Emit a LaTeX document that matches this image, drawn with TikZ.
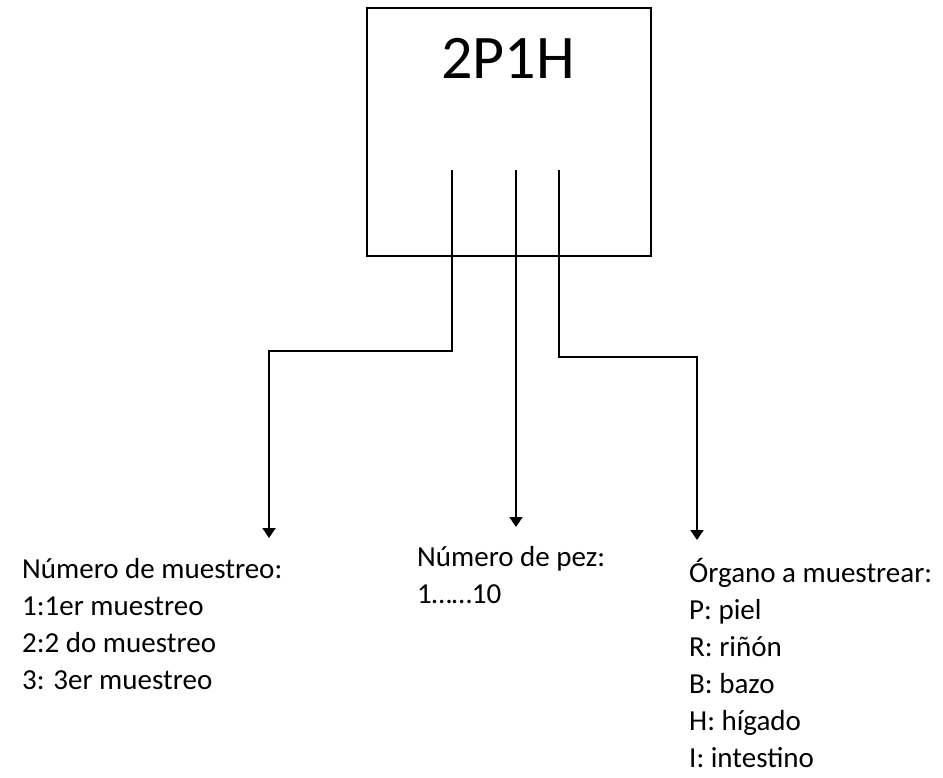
\documentclass[tikz,border=0pt]{standalone}
\usepackage{fontspec}
\setmainfont{Carlito}
\usetikzlibrary{arrows.meta}
\begin{document}
\begin{tikzpicture}[x=1pt,y=-1pt,
  conn/.style={line width=2pt,-{Triangle[width=13pt,length=10pt]}},
  boxline/.style={line width=1.6pt},
  lbl/.style={anchor=north west,align=left,inner sep=0pt,font=\fontsize{29}{37}\selectfont},
  bigtxt/.style={anchor=base,inner sep=0pt,font=\fontsize{62}{70}\selectfont}]
\useasboundingbox (0,0) rectangle (943,777);
\node[draw,boxline,minimum width=284pt,minimum height=248pt,anchor=north west,inner sep=0pt] (box) at (366,7) {};
\node[bigtxt] (code) at (508,78) {2P1H};
\coordinate (s1) at (452,170);
\coordinate (s2) at (516,170);
\coordinate (s3) at (559,170);
\node[lbl] (t1) at (22,558) {Número de muestreo:\\1:1er muestreo\\2:2 do muestreo\\3: 3er muestreo};
\node[lbl] (t2) at (417,546) {Número de pez:\\1……10};
\node[lbl] (t3) at (689,558) {Órgano a muestrear:\\P: piel\\R: riñón\\B: bazo\\H: hígado\\I: intestino};
\coordinate (e1) at (269,538);
\coordinate (e2) at (516,527);
\coordinate (e3) at (697,540);
\draw[conn] (s1) -- (452,351) -| (e1);
\draw[conn] (s2) -- (e2);
\draw[conn] (s3) -- (559,357) -| (e3);
\end{tikzpicture}
\end{document}
